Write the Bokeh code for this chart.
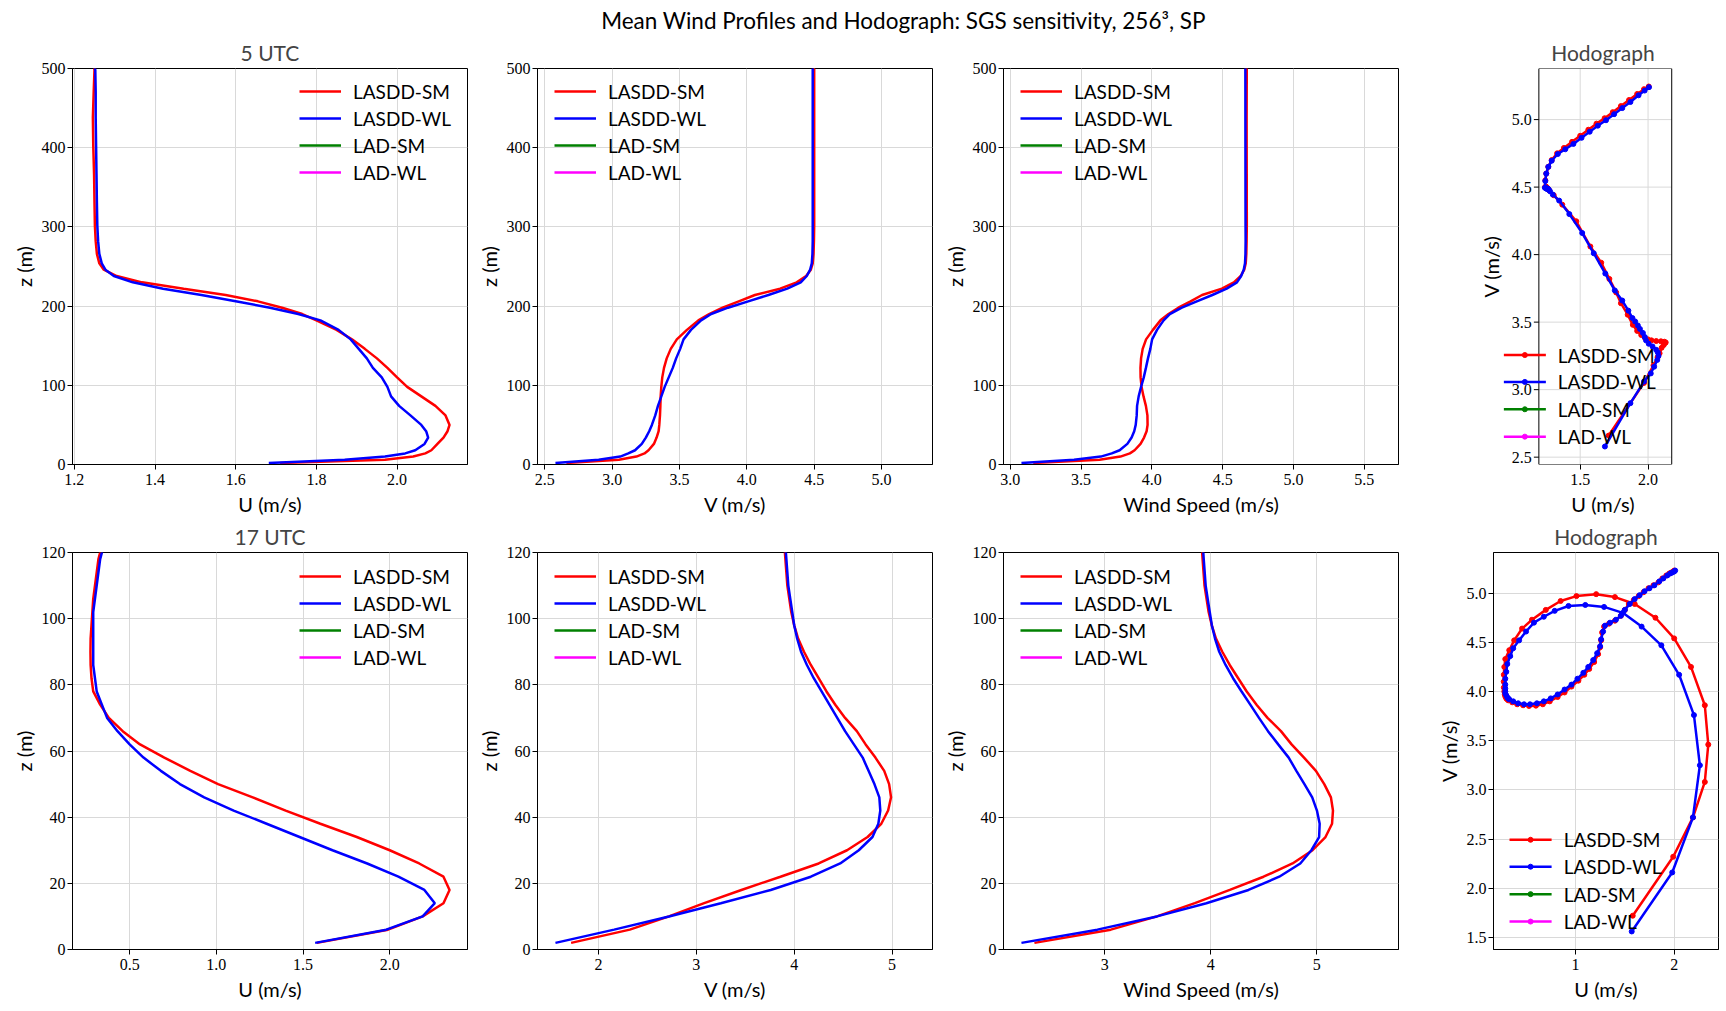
import numpy as np
from bokeh.core.properties import value
from bokeh.embed import file_html
from bokeh.layouts import column, row
from bokeh.models import (ColumnDataSource, FixedTicker, Legend, LegendItem,
                          PrintfTickFormatter, Range1d)
from bokeh.plotting import figure
from bokeh.resources import INLINE

# ---------------------------------------------------------------------------
# Horizontally averaged wind profiles, 256^3 runs (subsampled levels, m)
# ---------------------------------------------------------------------------
z_05 = [2, 6, 10, 14, 18, 26, 34, 42, 50, 62, 74, 86, 98, 110,
        122, 134, 146, 158, 170, 182, 190, 198, 206, 214, 222, 230, 238, 246,
        254, 266, 282, 302, 330, 366, 402, 438, 470, 498,
        530, 560, 590, 620, 650, 680, 710, 740, 770, 800, 830, 860, 890, 920,
        950, 980, 1000, 1020]

u_05_sm = [1.71, 1.97, 2.04, 2.07, 2.085, 2.10, 2.115, 2.125, 2.13, 2.12,
           2.095, 2.06, 2.025, 2.00, 1.976, 1.95, 1.92, 1.888, 1.85, 1.80,
           1.765, 1.715, 1.655, 1.575, 1.471, 1.368, 1.305, 1.273, 1.262, 1.256,
           1.253, 1.251, 1.25, 1.249, 1.247, 1.246, 1.248, 1.25,
           1.241, 1.243, 1.25, 1.265, 1.29, 1.33, 1.38, 1.44, 1.50, 1.56,
           1.62, 1.68, 1.74, 1.80, 1.86, 1.92, 1.97, 2.005]
v_05_sm = [2.66, 3.05, 3.18, 3.24, 3.27, 3.31, 3.33, 3.345, 3.35, 3.355,
           3.358, 3.36, 3.365, 3.372, 3.385, 3.405, 3.435, 3.48, 3.555, 3.64,
           3.72, 3.82, 3.94, 4.06, 4.247, 4.37, 4.44, 4.475, 4.489, 4.495,
           4.498, 4.5, 4.5, 4.5, 4.5, 4.5, 4.5, 4.5,
           4.50, 4.55, 4.60, 4.65, 4.70, 4.75, 4.79, 4.835, 4.88, 4.925,
           4.97, 5.01, 5.055, 5.10, 5.145, 5.19, 5.225, 5.245]

u_05_wl = [1.682, 1.87, 1.97, 2.02, 2.045, 2.068, 2.077, 2.072, 2.06, 2.033,
           2.005, 1.985, 1.976, 1.962, 1.94, 1.925, 1.905, 1.885, 1.855, 1.81,
           1.755, 1.685, 1.60, 1.515, 1.42, 1.345, 1.298, 1.277, 1.268, 1.262,
           1.259, 1.257, 1.256, 1.255, 1.254, 1.253, 1.253, 1.252,
           1.24, 1.243, 1.25, 1.265, 1.29, 1.335, 1.39, 1.45, 1.51, 1.57,
           1.63, 1.69, 1.75, 1.81, 1.87, 1.93, 1.975, 2.007]
v_05_wl = [2.579, 2.90, 3.06, 3.12, 3.17, 3.22, 3.25, 3.275, 3.295, 3.32,
           3.34, 3.365, 3.39, 3.42, 3.45, 3.475, 3.505, 3.53, 3.585, 3.66,
           3.735, 3.86, 4.01, 4.16, 4.30, 4.40, 4.445, 4.47, 4.482, 4.487,
           4.489, 4.489, 4.489, 4.489, 4.489, 4.489, 4.489, 4.489,
           4.495, 4.545, 4.60, 4.65, 4.695, 4.745, 4.78, 4.82, 4.865, 4.91,
           4.955, 4.995, 5.04, 5.085, 5.13, 5.18, 5.215, 5.24]

z_17 = [2, 6, 10, 14, 18, 22, 26, 30, 34, 38, 42, 46, 50, 54, 58, 62, 66, 70,
        74, 78, 82, 86, 90, 94, 98, 102, 106, 110, 114, 118,
        126, 134, 142, 150, 160, 170, 180, 190, 200, 215, 230, 245, 260, 280,
        300, 320, 340, 360, 385, 410, 435, 460, 490, 520, 550, 580, 610, 640,
        680, 720, 760, 800, 850, 900, 950, 1000]

u_17_sm = [1.58, 1.99, 2.19, 2.31, 2.345, 2.31, 2.17, 2.00, 1.81, 1.60,
           1.40, 1.21, 1.01, 0.85, 0.70, 0.56, 0.46, 0.38, 0.33, 0.29,
           0.28, 0.275, 0.274, 0.275, 0.28, 0.285, 0.29, 0.30, 0.31, 0.32,
           0.36, 0.41, 0.47, 0.53, 0.60, 0.67, 0.74, 0.82, 0.89, 0.96,
           1.03, 1.09, 1.14, 1.19, 1.23, 1.25, 1.26, 1.27, 1.29, 1.34,
           1.40, 1.46, 1.50, 1.54, 1.59, 1.64, 1.69, 1.74, 1.79, 1.84,
           1.88, 1.92, 1.95, 1.97, 1.99, 2.00]
v_17_sm = [1.72, 2.32, 2.72, 3.08, 3.46, 3.86, 4.25, 4.54, 4.75, 4.89,
           4.96, 4.99, 4.97, 4.92, 4.83, 4.73, 4.64, 4.52, 4.42, 4.33,
           4.25, 4.17, 4.10, 4.04, 4.00, 3.97, 3.95, 3.93, 3.92, 3.91,
           3.89, 3.87, 3.86, 3.853, 3.856, 3.87, 3.90, 3.944, 3.99, 4.05,
           4.11, 4.17, 4.23, 4.30, 4.38, 4.45, 4.52, 4.60, 4.66, 4.69,
           4.72, 4.77, 4.83, 4.89, 4.93, 4.97, 5.01, 5.05, 5.08, 5.11,
           5.15, 5.18, 5.20, 5.21, 5.22, 5.23]

u_17_wl = [1.57, 1.98, 2.19, 2.26, 2.20, 2.05, 1.87, 1.67, 1.48, 1.29,
           1.10, 0.93, 0.79, 0.68, 0.58, 0.50, 0.43, 0.37, 0.34, 0.31,
           0.30, 0.29, 0.29, 0.29, 0.29, 0.29, 0.30, 0.31, 0.32, 0.33,
           0.37, 0.42, 0.48, 0.54, 0.61, 0.68, 0.75, 0.82, 0.89, 0.96,
           1.02, 1.08, 1.13, 1.18, 1.22, 1.25, 1.26, 1.28, 1.30, 1.35,
           1.41, 1.46, 1.50, 1.55, 1.60, 1.65, 1.70, 1.75, 1.80, 1.85,
           1.89, 1.93, 1.96, 1.98, 2.00, 2.01]
v_17_wl = [1.56, 2.16, 2.72, 3.25, 3.76, 4.17, 4.47, 4.66, 4.80, 4.86,
           4.88, 4.87, 4.82, 4.76, 4.70, 4.61, 4.52, 4.44, 4.36, 4.28,
           4.20, 4.13, 4.07, 4.03, 4.00, 3.98, 3.96, 3.94, 3.93, 3.92,
           3.90, 3.88, 3.87, 3.87, 3.88, 3.90, 3.93, 3.97, 4.02, 4.07,
           4.13, 4.19, 4.25, 4.32, 4.39, 4.46, 4.53, 4.61, 4.67, 4.70,
           4.73, 4.77, 4.83, 4.89, 4.94, 4.98, 5.02, 5.05, 5.08, 5.12,
           5.15, 5.18, 5.20, 5.21, 5.22, 5.23]

cases = ["LASDD-SM", "LASDD-WL", "LAD-SM", "LAD-WL"]
case_colors = ["#ff0000", "#0000ff", "#008000", "#ff00ff"]

# LAD runs have no output at these hours (empty series, legend entries only)
times = [
    ("5 UTC", 500, {"LASDD-SM": (z_05, u_05_sm, v_05_sm),
                    "LASDD-WL": (z_05, u_05_wl, v_05_wl),
                    "LAD-SM": ([], [], []), "LAD-WL": ([], [], [])}),
    ("17 UTC", 120, {"LASDD-SM": (z_17, u_17_sm, v_17_sm),
                     "LASDD-WL": (z_17, u_17_wl, v_17_wl),
                     "LAD-SM": ([], [], []), "LAD-WL": ([], [], [])}),
]

SANS = "Lato"
SERIF = "Liberation Serif"
GRID = "#d9d9d9"

# ---------------------------------------------------------------------------
# Page geometry (pixels)
# ---------------------------------------------------------------------------
PAGE_W = 1726
HEAD_H = 34
FRAME_H = 398
PAD_TOP = 33
ROW_H = [484, 493]
PROF_W = 395
PROF_LEFT = [72, 65, 66]
PROF_RIGHT = 5
HODO_X = sum(PROF_LEFT) + 3 * (PROF_W + PROF_RIGHT)
HODO_FIG_W = PAGE_W - HODO_X
HODO_CENTER = 201.8
HODO_AXIS_GAP = 76          # left border of the hand-framed hodograph
LEG_ROWS = [110, 83, 55.5, 28]   # legend rows, px above the axes bottom


def padded(vals):
    lo, hi = float(np.nanmin(vals)), float(np.nanmax(vals))
    d = 0.05 * (hi - lo)
    return lo - d, hi + d


def fmt_for(ticks):
    return "%d" if all(float(t).is_integer() for t in ticks) else "%.1f"


def new_fig(width, height, left, right, bottom, xr, yr, title=None):
    p = figure(width=width, height=height,
               x_range=Range1d(*xr), y_range=Range1d(*yr),
               toolbar_location=None, output_backend="svg",
               min_border_left=left, min_border_right=right,
               min_border_top=PAD_TOP, min_border_bottom=bottom)
    p.title.text = title or ""
    p.title.align = "center"
    p.title.text_font = SANS
    p.title.text_font_size = "21px"
    p.title.text_font_style = "normal"
    p.title.standoff = 7
    p.outline_line_color = "black"
    p.outline_line_alpha = 1.0
    p.outline_line_width = 1
    p.grid.grid_line_color = GRID
    p.grid.grid_line_width = 1
    return p


def style_axes(p, xticks, yticks, xlabel, ylabel):
    xt, yt = FixedTicker(ticks=xticks), FixedTicker(ticks=yticks)
    p.xaxis.ticker = xt
    p.xgrid.ticker = xt
    p.yaxis.ticker = yt
    p.ygrid.ticker = yt
    p.xaxis.formatter = PrintfTickFormatter(format=fmt_for(xticks))
    p.yaxis.formatter = PrintfTickFormatter(format=fmt_for(yticks))
    p.xaxis.axis_label = xlabel
    p.yaxis.axis_label = ylabel
    for ax in (p.xaxis, p.yaxis):
        ax.major_tick_in = 0
        ax.major_tick_out = 5
        ax.minor_tick_line_color = None
        ax.axis_line_color = "black"
        ax.major_tick_line_color = "black"
        ax.major_label_text_font = SERIF
        ax.major_label_text_font_size = "16px"
        ax.major_label_text_color = "black"
        ax.axis_label_text_font = SANS
        ax.axis_label_text_font_size = "20px"
        ax.axis_label_text_font_style = "normal"
        ax.axis_label_text_color = "black"
    p.xaxis.major_label_standoff = 4
    p.xaxis.axis_label_standoff = 4
    p.yaxis.major_label_standoff = 2
    p.yaxis.axis_label_standoff = 3


def add_legend(p, items, loc):
    leg = Legend(items=items, location=loc, orientation="vertical",
                 glyph_width=42, glyph_height=24, label_height=24,
                 label_standoff=12, spacing=3, padding=0, margin=0,
                 border_line_color=None, background_fill_alpha=0.0,
                 label_text_font=SANS, label_text_font_size="19px",
                 label_text_color="black")
    p.add_layout(leg)


def draw_hodo_legend(p, x0, y0, scale, dx):
    """Line-and-dot legend drawn in data space from pixel offsets."""
    xa = x0 + dx / scale
    xb = xa + 42 / scale
    for c, col, off in zip(cases, case_colors, LEG_ROWS):
        yy = y0 + off / scale
        p.segment(x0=[xa], y0=[yy], x1=[xb], y1=[yy], line_color=col,
                  line_width=2.5)
        p.scatter(x=[(xa + xb) / 2], y=[yy], marker="circle", size=5,
                  fill_color=col, line_color=col)
        p.text(x=[xb + 12 / scale], y=[yy], text=[c], text_align="left",
               text_baseline="middle", text_font=value(SANS),
               text_font_size="19px", text_color="black")


# Suptitle strip
head = figure(width=PAGE_W, height=HEAD_H, x_range=Range1d(0, PAGE_W),
              y_range=Range1d(HEAD_H, 0), toolbar_location=None,
              output_backend="svg", min_border=0,
              x_axis_type=None, y_axis_type=None)
head.outline_line_color = None
head.grid.visible = False
head.text(x=[903], y=[20],
          text=["Mean Wind Profiles and Hodograph: SGS sensitivity, 256\u00b3, SP"],
          text_align="center", text_baseline="middle",
          text_font=value(SANS), text_font_size="22.5px", text_color="black")

profile_vars = [("u", "U (m/s)"), ("v", "V (m/s)"), ("spd", "Wind Speed (m/s)")]
profile_ticks = {
    "5 UTC": ([1.2, 1.4, 1.6, 1.8, 2.0], [2.5, 3.0, 3.5, 4.0, 4.5, 5.0],
              [3.0, 3.5, 4.0, 4.5, 5.0, 5.5], [0, 100, 200, 300, 400, 500]),
    "17 UTC": ([0.5, 1.0, 1.5, 2.0], [2, 3, 4, 5], [3, 4, 5],
               [0, 20, 40, 60, 80, 100, 120]),
}
hodo_ticks = {
    "5 UTC": ([1.5, 2.0], [2.5, 3.0, 3.5, 4.0, 4.5, 5.0]),
    "17 UTC": ([1, 2], [1.5, 2.0, 2.5, 3.0, 3.5, 4.0, 4.5, 5.0]),
}

rows = []
for r, (label, ztop, runs) in enumerate(times):
    height = ROW_H[r]
    bottom = height - PAD_TOP - FRAME_H
    sources = {}
    for c in cases:
        z, u, v = runs[c]
        if len(z) == 0:
            z, u, v = [np.nan], [np.nan], [np.nan]
        u_arr, v_arr = np.asarray(u, float), np.asarray(v, float)
        sources[c] = ColumnDataSource(dict(z=list(z), u=u_arr, v=v_arr,
                                           spd=np.hypot(u_arr, v_arr)))

    figs = []
    for k, (var, xlabel) in enumerate(profile_vars):
        allv = np.concatenate([sources[c].data[var] for c in cases])
        p = new_fig(PROF_LEFT[k] + PROF_W + PROF_RIGHT, height, PROF_LEFT[k],
                    PROF_RIGHT, bottom, padded(allv), (0, ztop),
                    title=label if k == 0 else None)
        items = []
        for c, col in zip(cases, case_colors):
            rr = p.line(x=var, y="z", source=sources[c], line_color=col,
                        line_width=2.5)
            items.append(LegendItem(label=c, renderers=[rr]))
        style_axes(p, profile_ticks[label][k], profile_ticks[label][3],
                   xlabel, "z (m)")
        add_legend(p, items, (227, 280) if k == 0 else (17, 280))
        figs.append(p)

    # Hodograph, equal scaling on both axes
    all_u = np.concatenate([sources[c].data["u"] for c in cases])
    all_v = np.concatenate([sources[c].data["v"] for c in cases])
    xr, yr = padded(all_u), padded(all_v)
    scale = FRAME_H / (yr[1] - yr[0])
    fw = scale * (xr[1] - xr[0])
    af_left = HODO_CENTER - fw / 2
    xticks, yticks = hodo_ticks[label]

    if r == 1:
        hl = int(round(af_left))
        hp = new_fig(HODO_FIG_W, height, hl, HODO_FIG_W - hl - int(round(fw)),
                     bottom, xr, yr, title="Hodograph")
        style_axes(hp, xticks, yticks, "U (m/s)", "V (m/s)")
        for c, col in zip(cases, case_colors):
            hp.line(x="u", y="v", source=sources[c], line_color=col,
                    line_width=2.5)
            hp.scatter(x="u", y="v", source=sources[c], marker="circle",
                       size=5, fill_color=col, line_color=col)
        draw_hodo_legend(hp, xr[0], yr[0], scale, 16)
    else:
        # The legend of this narrow hodograph spills over its y axis, so the
        # box, grid and y axis are drawn by hand inside a wider plot area.
        x_start = xr[0] - (af_left - HODO_AXIS_GAP) / scale
        x_end = x_start + (HODO_FIG_W - HODO_AXIS_GAP) / scale
        hp = new_fig(HODO_FIG_W, height, HODO_AXIS_GAP, 0, bottom,
                     (x_start, x_end), yr, title="Hodograph")
        style_axes(hp, xticks, yticks, "U (m/s)", "")
        hp.yaxis.visible = False
        hp.xaxis.axis_line_color = None
        hp.xgrid.visible = False
        hp.ygrid.visible = False
        hp.outline_line_color = None
        x0, x1 = xr
        y0, y1 = yr
        hp.segment(x0=xticks, y0=[y0] * len(xticks), x1=xticks,
                   y1=[y1] * len(xticks), line_color=GRID, line_width=1)
        hp.segment(x0=[x0] * len(yticks), y0=yticks, x1=[x1] * len(yticks),
                   y1=yticks, line_color=GRID, line_width=1)
        for c, col in zip(cases, case_colors):
            hp.line(x="u", y="v", source=sources[c], line_color=col,
                    line_width=2.5)
            hp.scatter(x="u", y="v", source=sources[c], marker="circle",
                       size=5, fill_color=col, line_color=col)
        hp.quad(left=[x0], right=[x1], bottom=[y0], top=[y1],
                fill_color=None, line_color="black", line_width=1)
        hp.segment(x0=[x0 - 5 / scale] * len(yticks), y0=yticks,
                   x1=[x0] * len(yticks), y1=yticks, line_color="black",
                   line_width=1)
        hp.text(x=[x0 - 7 / scale] * len(yticks), y=yticks,
                text=[fmt_for(yticks) % t for t in yticks],
                text_align="right", text_baseline="middle",
                text_font=value(SERIF), text_font_size="16px",
                text_color="black")
        hp.text(x=[x_start + 11 / scale], y=[(y0 + y1) / 2], text=["V (m/s)"],
                angle=np.pi / 2, text_align="center", text_baseline="middle",
                text_font=value(SANS), text_font_size="20px",
                text_color="black")
        draw_hodo_legend(hp, x0, y0, scale, -35)
    figs.append(hp)
    rows.append(row(*figs, spacing=0))

page = column(head, *rows, spacing=0)

with open("out.html", "w") as f:
    f.write(file_html(page, INLINE, title="Mean Wind Profiles and Hodograph"))
